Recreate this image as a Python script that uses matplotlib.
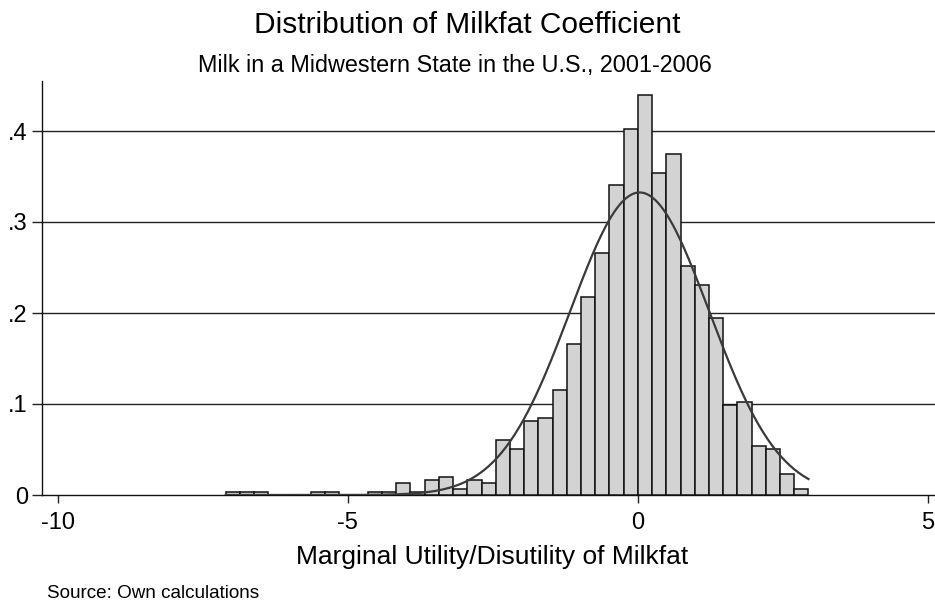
import numpy as np
import matplotlib
matplotlib.use("Agg")
import matplotlib.pyplot as plt

plt.rcParams['font.family'] = ['Liberation Sans', 'DejaVu Sans']

# ---- data ----
bin_width = 0.245
first_edge = -29 * 0.245
densities = [0.003, 0.003, 0.003, 0.0, 0.0, 0.0, 0.003, 0.003, 0.0, 0.0,
             0.003, 0.003, 0.0127, 0.003, 0.0165, 0.0201, 0.0062, 0.0165, 0.0127, 0.0608,
             0.0505, 0.0813, 0.0849, 0.1154, 0.1663, 0.2176, 0.2659, 0.3407, 0.4022, 0.4399,
             0.3542, 0.3747, 0.2520, 0.2311, 0.1941, 0.0985, 0.1018, 0.0538, 0.0505, 0.0227,
             0.0062]
curve_mean = 0.03
curve_sd = 1.2
x_ticks = [-10, -5, 0, 5]
x_tick_labels = ['-10', '-5', '0', '5']
y_ticks = [0, 0.1, 0.2, 0.3, 0.4]
y_tick_labels = ['0', '.1', '.2', '.3', '.4']

title = 'Distribution of Milkfat Coefficient'
subtitle = 'Milk in a Midwestern State in the U.S., 2001-2006'
xlabel = 'Marginal Utility/Disutility of Milkfat'
note = 'Source: Own calculations'

W, H = 935, 602
fig = plt.figure(figsize=(W / 100, H / 100), dpi=100)
ax_l, ax_r, ax_t, ax_b = 42, 935, 81, 495
ax = fig.add_axes([ax_l / W, 1 - ax_b / H, (ax_r - ax_l) / W, (ax_b - ax_t) / H])

edges = first_edge + bin_width * np.arange(len(densities) + 1)
lefts = edges[:-1]
dens = np.array(densities)
mask = dens > 0
ax.bar(lefts[mask], dens[mask], width=bin_width, align='edge',
       color='#d3d3d3', edgecolor='#111111', linewidth=1.1, zorder=3)

xs = np.linspace(edges[0], edges[-1], 400)
ys = np.exp(-0.5 * ((xs - curve_mean) / curve_sd) ** 2) / (curve_sd * np.sqrt(2 * np.pi))
ax.plot(xs, ys, color='#3a3a3a', linewidth=1.6, zorder=4)

for yv in y_ticks[1:]:
    ax.axhline(yv, color='#222222', linewidth=1.0, zorder=1)

x0_px, px_per_unit = 57.7, 58.02
ax.set_xlim(-10 - (x0_px - ax_l) / px_per_unit, -10 + (ax_r - x0_px) / px_per_unit)
ax.set_ylim(0, (ax_b - ax_t) / 910.0)

ax.set_xticks(x_ticks)
ax.set_xticklabels(x_tick_labels, fontsize=17)
ax.set_yticks(y_ticks)
ax.set_yticklabels(y_tick_labels, fontsize=17)
ax.tick_params(axis='x', length=6, width=1, pad=6, color='#222222')
ax.tick_params(axis='y', length=7.2, width=1, pad=3, color='#222222')

for s in ['top', 'right']:
    ax.spines[s].set_visible(False)
for s in ['left', 'bottom']:
    ax.spines[s].set_linewidth(1.0)
    ax.spines[s].set_color('#111111')

def fy(px):
    return 1 - px / H

fig.text(0.5, fy(33), title, ha='center', va='baseline', fontsize=21.5)
fig.text(455 / W, fy(72), subtitle, ha='center', va='baseline', fontsize=16.8)
fig.text(492 / W, fy(564), xlabel, ha='center', va='baseline', fontsize=19)
fig.text(47 / W, fy(598), note, ha='left', va='baseline', fontsize=13.6)

fig.savefig('out.png', dpi=100)
